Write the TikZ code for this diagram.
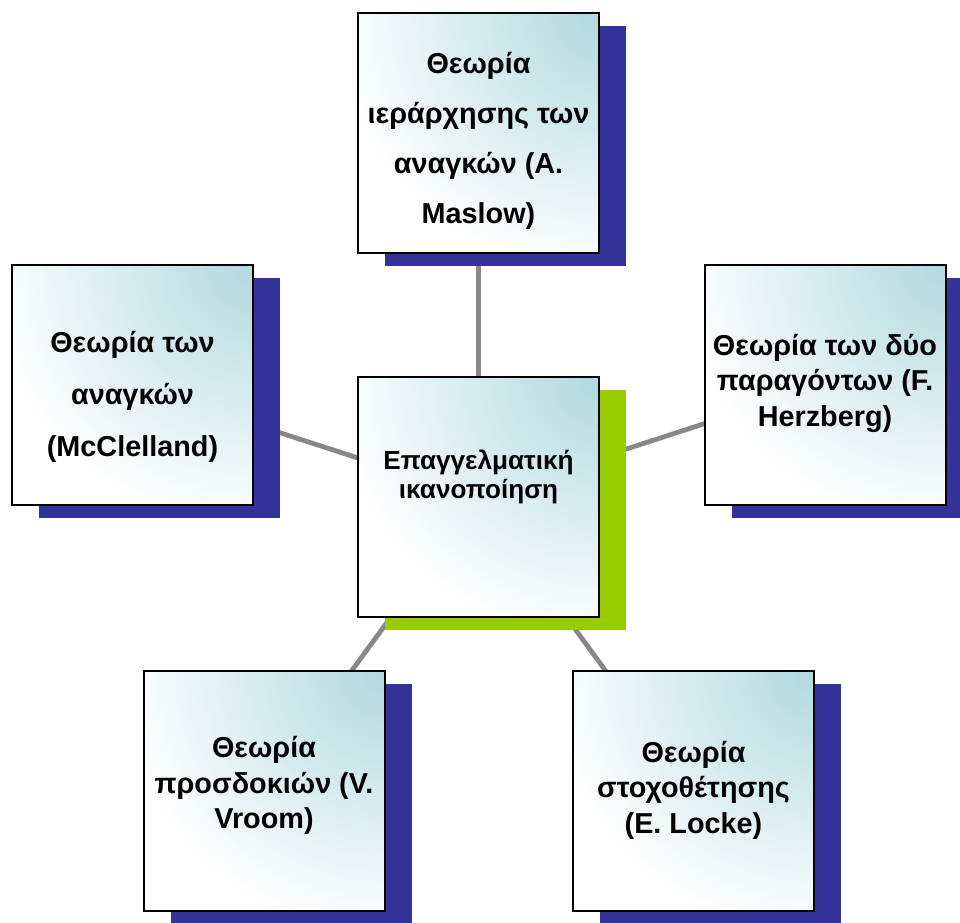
\documentclass[tikz,border=0pt]{standalone}
\usepackage{fontspec}
\setmainfont{Liberation Sans}
\usetikzlibrary{shadows,backgrounds}

\definecolor{shadowblue}{RGB}{51,51,153}
\definecolor{shadowgreen}{RGB}{153,204,0}
\definecolor{cardtint}{RGB}{176,217,223}
\definecolor{linkgray}{RGB}{136,136,136}

\tikzset{
  card/.style={
    draw=black, line width=1.5pt, minimum width=180.75pt, minimum height=180pt,
    inner sep=0pt, fill=white,
    % tint fading out from the upper right corner
    path picture={\shade[inner color=cardtint, outer color=white]
      (path picture bounding box.north east) circle (198pt);},
    drop shadow={shadow xshift=20.25pt, shadow yshift=-9.75pt, fill=shadowblue, opacity=1}},
  hubcard/.style={card,
    drop shadow={shadow xshift=20.25pt, shadow yshift=-9.75pt, fill=shadowgreen, opacity=1}},
  lbl/.style={align=center, font=\bfseries\fontsize{21.6}{#1}\selectfont},
  link/.style={draw=linkgray, line width=3.6pt},
}

\begin{document}
\begin{tikzpicture}[x=0.75pt, y=-0.75pt]
\useasboundingbox (0,0) rectangle (960,922);

% hub
\node[hubcard, label={[align=center, font=\bfseries\fontsize{19.6}{21.5}\selectfont, yshift=15pt]center:{Επαγγελματική\\ικανοποίηση}}] (hub) at (478.5,497) {};

% theories around the hub
\node[card, label={[lbl=37.5, yshift=-6pt]center:{Θεωρία\\ιεράρχησης των\\αναγκών (A.\\Maslow)}}] (maslow) at (478.5,132.5) {};
\node[card, label={[lbl=39, yshift=-9pt]center:{Θεωρία των\\αναγκών\\(McClelland)}}] (mcclelland) at (132.5,385) {};
\node[card, label={[lbl=26.5, yshift=1pt]center:{Θεωρία των δύο\\παραγόντων (F.\\Herzberg)}}] (herzberg) at (825,384.5) {};
\node[card, label={[lbl=26.5, yshift=4pt]center:{Θεωρία\\προσδοκιών (V.\\Vroom)}}] (vroom) at (264,791) {};
\node[card, label={[lbl=26.5, yshift=0.5pt]center:{Θεωρία\\στοχοθέτησης\\(E. Locke)}}] (locke) at (693.5,791) {};

% spokes, behind the cards
\begin{scope}[on background layer]
  \draw[link] (hub.center) -- (maslow.center);
  \draw[link] (hub.center) -- (mcclelland.center);
  \draw[link] (hub.center) -- (herzberg.center);
  \draw[link] (hub.center) -- (vroom.center);
  \draw[link] (hub.center) -- (locke.center);
\end{scope}
\end{tikzpicture}
\end{document}
